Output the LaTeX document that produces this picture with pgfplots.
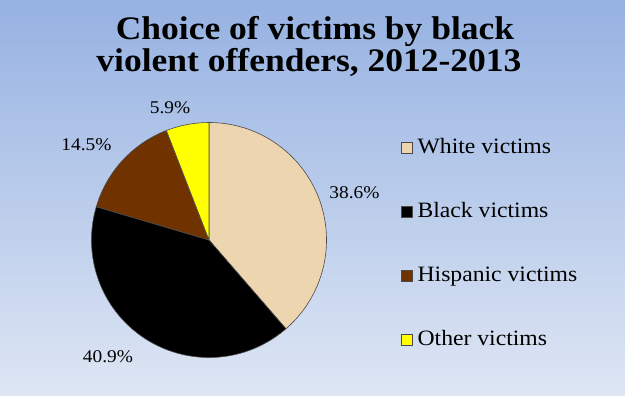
\documentclass[border=0pt]{standalone}
\usepackage{fontspec}
\setmainfont[FakeStretch=1.08]{Liberation Serif}
\usepackage{pgfplots}
\usepackage{pgfplotstable}
\pgfplotsset{compat=1.18}
\definecolor{cWhite}{HTML}{EDD5B0}
\definecolor{cBlack}{HTML}{000000}
\definecolor{cHisp}{HTML}{703300}
\definecolor{cOther}{HTML}{FFFF00}
\definecolor{bgtop}{HTML}{96B2E2}
\definecolor{bgbot}{HTML}{DEE6F4}
\definecolor{edge}{HTML}{4A4A4A}
\pgfplotstableread{
name value
White 38.6
Black 40.9
Hispanic 14.5
Other 5.9
}\piedata
\pgfplotsset{sqlegend/.style={legend image code/.code={\draw[##1] (0bp,-5.5bp) rectangle (11bp,5.5bp);}}}
\begin{document}
\begin{tikzpicture}
\pgfplotstablegetelem{0}{value}\of\piedata \let\vA\pgfplotsretval
\pgfplotstablegetelem{1}{value}\of\piedata \let\vB\pgfplotsretval
\pgfplotstablegetelem{2}{value}\of\piedata \let\vC\pgfplotsretval
\pgfplotstablegetelem{3}{value}\of\piedata \let\vD\pgfplotsretval
\pgfmathsetmacro{\tot}{\vA+\vB+\vC+\vD}
\pgfmathsetmacro{\aA}{90}
\pgfmathsetmacro{\aB}{90-360*\vA/\tot}
\pgfmathsetmacro{\aC}{\aB-360*\vB/\tot}
\pgfmathsetmacro{\aD}{\aC-360*\vC/\tot}
\pgfmathsetmacro{\aE}{\aD-360*\vD/\tot}
\def\R{117.5bp}
\begin{axis}[scale only axis, width=625bp, height=396bp,
  xmin=0, xmax=625, ymin=0, ymax=396, hide axis, clip=false,
  legend style={draw=none, fill=none, at={(axis cs:398,259)}, anchor=north west,
    row sep=46bp, font=\fontsize{22}{24}\selectfont,
    nodes={inner sep=0pt, text height=14bp, text depth=4bp},
    /tikz/every odd column/.append style={column sep=5bp}},
  legend cell align=left,
  sqlegend]
\shade[top color=bgtop, bottom color=bgbot] (axis cs:0,0) rectangle (axis cs:625,396);
\filldraw[fill=cWhite, draw=edge, line width=0.6bp] (axis cs:209,156) -- ([shift={(\aA:\R)}]axis cs:209,156) arc[start angle=\aA, end angle=\aB, radius=\R] -- cycle;
\filldraw[fill=cBlack, draw=edge, line width=0.6bp] (axis cs:209,156) -- ([shift={(\aB:\R)}]axis cs:209,156) arc[start angle=\aB, end angle=\aC, radius=\R] -- cycle;
\filldraw[fill=cHisp, draw=edge, line width=0.6bp] (axis cs:209,156) -- ([shift={(\aC:\R)}]axis cs:209,156) arc[start angle=\aC, end angle=\aD, radius=\R] -- cycle;
\filldraw[fill=cOther, draw=edge, line width=0.6bp] (axis cs:209,156) -- ([shift={(\aD:\R)}]axis cs:209,156) arc[start angle=\aD, end angle=\aE, radius=\R] -- cycle;
\node[font=\fontsize{18}{20}\selectfont] at (axis cs:354.5,203) {38.6\%};
\node[font=\fontsize{18}{20}\selectfont] at (axis cs:108,39) {40.9\%};
\node[font=\fontsize{18}{20}\selectfont] at (axis cs:86.5,251) {14.5\%};
\node[font=\fontsize{18}{20}\selectfont] at (axis cs:170,288) {5.9\%};
\node[anchor=base, font=\bfseries\fontsize{33}{32}\selectfont] at (axis cs:315,356) {Choice of victims by black};
\node[anchor=base, font=\bfseries\fontsize{33}{32}\selectfont] at (axis cs:309,324) {violent offenders, 2012-2013};
\addlegendimage{fill=cWhite, draw=edge}
\addlegendentry{White victims}
\addlegendimage{fill=cBlack, draw=edge}
\addlegendentry{Black victims}
\addlegendimage{fill=cHisp, draw=edge}
\addlegendentry{Hispanic victims}
\addlegendimage{fill=cOther, draw=edge}
\addlegendentry{Other victims}
\end{axis}
\end{tikzpicture}
\end{document}
